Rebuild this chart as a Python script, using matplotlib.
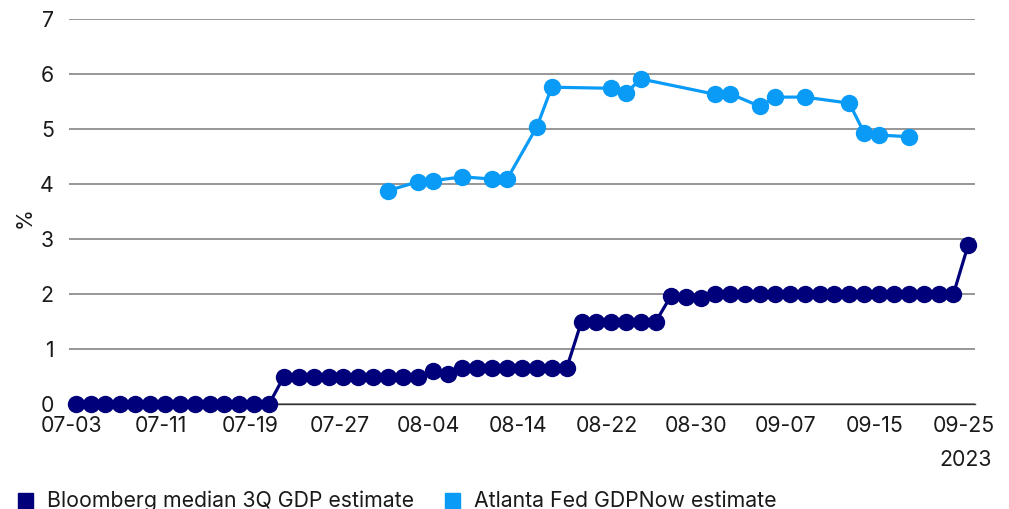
import matplotlib
matplotlib.use("Agg")
import matplotlib.pyplot as plt
from matplotlib.patches import Rectangle
import matplotlib.transforms as mtransforms
import numpy as np

plt.rcParams['font.family'] = ['Inter', 'DejaVu Sans']

dates = (
    ["07-03", "07-04", "07-05", "07-06", "07-07", "07-10", "07-11", "07-12", "07-13", "07-14",
     "07-17", "07-18", "07-19", "07-20", "07-21", "07-24", "07-25", "07-26", "07-27", "07-28", "07-31"]
    + ["08-01", "08-02", "08-03", "08-04", "08-07", "08-08", "08-09", "08-10", "08-11", "08-14",
       "08-15", "08-16", "08-17", "08-18", "08-21", "08-22", "08-23", "08-24", "08-25", "08-28",
       "08-29", "08-30", "08-31"]
    + ["09-01", "09-04", "09-05", "09-06", "09-07", "09-08", "09-11", "09-12", "09-13", "09-14",
       "09-15", "09-18", "09-19", "09-20", "09-21", "09-22", "09-25"]
)

bloomberg = [0, 0, 0, 0, 0, 0, 0, 0, 0, 0, 0, 0, 0, 0,
             0.5, 0.5, 0.5, 0.5, 0.5, 0.5, 0.5, 0.5, 0.5, 0.5,
             0.6, 0.55, 0.65, 0.65, 0.65, 0.65, 0.65, 0.65, 0.65, 0.65,
             1.5, 1.5, 1.5, 1.5, 1.5, 1.5,
             1.96, 1.95, 1.93,
             2.0, 2.0, 2.0, 2.0, 2.0, 2.0, 2.0, 2.0, 2.0, 2.0, 2.0, 2.0, 2.0, 2.0, 2.0, 2.0, 2.0,
             2.9]

atlanta = {
    "08-01": 3.88, "08-03": 4.04, "08-04": 4.06, "08-08": 4.13, "08-10": 4.09, "08-11": 4.09,
    "08-15": 5.04, "08-16": 5.76, "08-22": 5.74, "08-23": 5.66, "08-24": 5.91,
    "08-31": 5.63, "09-01": 5.64, "09-05": 5.41, "09-06": 5.58, "09-08": 5.58,
    "09-13": 5.47, "09-14": 4.93, "09-15": 4.89, "09-19": 4.86,
}

tick_labels = ["07-03", "07-11", "07-19", "07-27", "08-04", "08-14", "08-22",
               "08-30", "09-07", "09-15", "09-25"]
y_ticks = [0, 1, 2, 3, 4, 5, 6, 7]

series_names = ["Bloomberg median 3Q GDP estimate", "Atlanta Fed GDPNow estimate"]
navy = "#00007a"
light = "#0a9bf7"
fs = 15.3
tc = '#1a1a1a'

W, H = 1009, 509
fig = plt.figure(figsize=(W / 100, H / 100), dpi=100)
ax = fig.add_axes([69 / W, 1 - 404 / H, (975 - 69) / W, (404 - 19) / H])

x = np.arange(len(dates))
ax.plot(x, bloomberg, color=navy, lw=2.3, marker='o', ms=11.5, zorder=5, clip_on=False)

ax_idx = [dates.index(d) for d in atlanta]
ax.plot(ax_idx, list(atlanta.values()), color=light, lw=2.3, marker='o', ms=11.5,
        zorder=4, clip_on=False)

ax.set_xlim(-0.45, len(dates) - 1 + 0.45)
ax.set_ylim(0, 7)
ax.set_yticks(y_ticks)
ax.set_yticklabels([str(v) for v in y_ticks])
ax.set_xticks([dates.index(t) for t in tick_labels])
ax.set_xticklabels(tick_labels)
ax.grid(axis='y', color='#7a7a7a', lw=1.1)
ax.set_axisbelow(True)
for s in ['top', 'right', 'left']:
    ax.spines[s].set_visible(False)
ax.spines['bottom'].set_color('#333333')
ax.spines['bottom'].set_linewidth(1.0)
ax.tick_params(axis='both', length=0, labelsize=fs, colors=tc)
ax.tick_params(axis='y', pad=11)
ax.tick_params(axis='x', pad=9)

off = mtransforms.ScaledTranslation(-4 / 100, 0, fig.dpi_scale_trans)
for lab in ax.get_xticklabels():
    lab.set_transform(lab.get_transform() + off)

fig.text(992 / W, 1 - 466.5 / H, "2023", ha='right', va='baseline', fontsize=fs, color=tc)
fig.text(25 / W, 1 - 218 / H, "%", ha='center', va='center', rotation=90, fontsize=fs, color=tc)

# legend
fig.patches.append(Rectangle((18 / W, 0), 15 / W, 16 / H, transform=fig.transFigure,
                             color=navy, figure=fig))
fig.text(47 / W, 1 - 507 / H, series_names[0], ha='left', va='baseline', fontsize=fs, color=tc)
fig.patches.append(Rectangle((445 / W, 0), 15 / W, 16 / H, transform=fig.transFigure,
                             color=light, figure=fig))
fig.text(474 / W, 1 - 507 / H, series_names[1], ha='left', va='baseline', fontsize=fs, color=tc)

fig.savefig("out.png", dpi=100)
